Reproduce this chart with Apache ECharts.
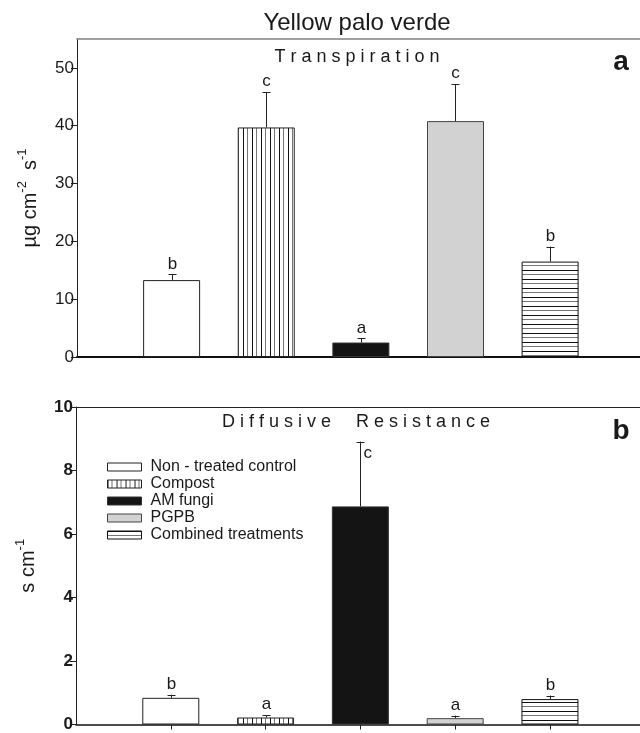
<!DOCTYPE html>
<html><head><meta charset="utf-8">
<script src="https://cdn.jsdelivr.net/npm/echarts@6/dist/echarts.min.js"></script>
<style>html,body{margin:0;padding:0;background:#fff}#c{width:640px;height:733px}</style>
</head><body><div id="c"></div>
<script>
// ---- data ----
const categories = ['Non - treated control', 'Compost', 'AM fungi', 'PGPB', 'Combined treatments'];
const xPositions = [1, 2, 3, 4, 5];
const transpiration = [13.3, 39.7, 2.5, 40.8, 16.5];
const transpirationSE = [1.0, 6.1, 0.7, 6.4, 2.6];
const transpirationLetters = ['b', 'c', 'a', 'c', 'b'];
const resistance = [0.84, 0.22, 6.87, 0.20, 0.80];
const resistanceSE = [0.10, 0.07, 2.04, 0.08, 0.11];
const resistanceLetters = ['b', 'a', 'c', 'a', 'b'];
const yTicksTranspiration = [0, 10, 20, 30, 40, 50];
const yTicksResistance = [0, 2, 4, 6, 8, 10];

const FONT = "'Liberation Sans', Arial, Helvetica, sans-serif";
const INK = '#1a1a1a';

function stripePattern(vertical) {
  const c = document.createElement('canvas');
  c.width = vertical ? 9 : 4;
  c.height = vertical ? 4 : 9;
  const g = c.getContext('2d');
  g.fillStyle = '#ffffff';
  g.fillRect(0, 0, c.width, c.height);
  if (vertical) {
    g.fillStyle = '#111'; g.fillRect(0, 0, 1, 4);
    g.fillStyle = '#777'; g.fillRect(4, 0, 1, 4);
  } else {
    g.fillStyle = '#111'; g.fillRect(0, 0, 4, 1);
    g.fillStyle = '#777'; g.fillRect(0, 4, 4, 1);
  }
  return { image: c, repeat: 'repeat' };
}

const barStyles = [
  { color: '#ffffff', borderColor: '#222', borderWidth: 1 },
  { color: stripePattern(true), borderColor: '#222', borderWidth: 1 },
  { color: '#141414', borderColor: '#333', borderWidth: 1 },
  { color: '#d2d2d2', borderColor: '#444', borderWidth: 1 },
  { color: stripePattern(false), borderColor: '#111', borderWidth: 1 }
];

function barSeries(values, gi) {
  return categories.map((name, i) => ({
    type: 'bar', name, xAxisIndex: gi * 2, yAxisIndex: gi,
    barWidth: 57, barGap: '-100%',
    data: [[xPositions[i], values[i]]],
    itemStyle: barStyles[i], silent: true
  }));
}

function errorSeries(values, se, letters, gi, sideThreshold) {
  return {
    type: 'custom', xAxisIndex: gi * 2, yAxisIndex: gi, silent: true, z: 10,
    data: values.map((v, i) => [xPositions[i], v, v + se[i], i]),
    renderItem: function (params, api) {
      const x = api.value(0), v = api.value(1), t = api.value(2), idx = api.value(3);
      const p0 = api.coord([x, v]), p1 = api.coord([x, t]);
      const cx = Math.round(p0[0]) + 0.5;
      const side = t > sideThreshold;
      return {
        type: 'group', children: [
          { type: 'line', shape: { x1: cx, y1: p0[1], x2: cx, y2: p1[1] }, style: { stroke: '#222', lineWidth: 1 } },
          { type: 'line', shape: { x1: cx - 4, y1: Math.round(p1[1]) + 0.5, x2: cx + 4, y2: Math.round(p1[1]) + 0.5 }, style: { stroke: '#222', lineWidth: 1 } },
          { type: 'text', style: {
              text: letters[idx], x: side ? cx + 3 : cx, y: side ? p1[1] + 3 : p1[1] - 2,
              align: side ? 'left' : 'center', verticalAlign: side ? 'top' : 'bottom',
              fontSize: 17, fontFamily: FONT, fill: INK } }
        ]
      };
    }
  };
}

const nameRich = {
  t: { fontSize: 20, fontFamily: FONT, color: INK, lineHeight: 24, verticalAlign: 'bottom' },
  s: { fontSize: 13, fontFamily: FONT, color: INK, lineHeight: 24, verticalAlign: 'top' }
};

const chart = echarts.init(document.getElementById('c'), null, { renderer: 'canvas' });
chart.setOption({
  animation: false,
  backgroundColor: '#ffffff',
  textStyle: { fontFamily: FONT },
  grid: [
    { left: 77, right: 0, top: 39, bottom: 376 },
    { left: 76, right: 0, top: 407, bottom: 7 }
  ],
  xAxis: [
    { type: 'value', gridIndex: 0, min: 0, max: 5.95, position: 'bottom',
      axisLine: { show: true, onZero: false, lineStyle: { color: '#111', width: 2 } },
      axisTick: { show: false }, axisLabel: { show: false }, splitLine: { show: false } },
    { type: 'value', gridIndex: 0, min: 0, max: 5.95, position: 'top',
      axisLine: { show: true, onZero: false, lineStyle: { color: '#808080', width: 1.5 } },
      axisTick: { show: false }, axisLabel: { show: false }, splitLine: { show: false } },
    { type: 'value', gridIndex: 1, min: 0, max: 5.95, position: 'bottom',
      axisLine: { show: true, onZero: false, lineStyle: { color: '#111', width: 1.5 } },
      axisTick: { show: true, customValues: xPositions, length: 5, lineStyle: { color: '#222' } },
      axisLabel: { show: false }, splitLine: { show: false } },
    { type: 'value', gridIndex: 1, min: 0, max: 5.95, position: 'top',
      axisLine: { show: true, onZero: false, lineStyle: { color: '#222', width: 1.2 } },
      axisTick: { show: false }, axisLabel: { show: false }, splitLine: { show: false } }
  ],
  yAxis: [
    { type: 'value', gridIndex: 0, min: 0, max: 55,
      axisLine: { show: true, onZero: false, lineStyle: { color: '#222', width: 1 } },
      axisTick: { show: true, length: 6, customValues: yTicksTranspiration, lineStyle: { color: '#222' } },
      axisLabel: { customValues: yTicksTranspiration, fontSize: 17, color: INK, margin: 3, fontFamily: FONT },
      splitLine: { show: false },
      name: '{t|µg cm}{s|-2}{t|  s}{s|-1}', nameLocation: 'middle', nameRotate: 90, nameGap: 37,
      nameTextStyle: { fontFamily: FONT, color: INK, rich: nameRich } },
    { type: 'value', gridIndex: 1, min: 0, max: 10, interval: 2,
      axisLine: { show: true, onZero: false, lineStyle: { color: '#222', width: 1 } },
      axisTick: { show: true, length: 6, customValues: yTicksResistance, lineStyle: { color: '#222' } },
      axisLabel: { customValues: yTicksResistance, fontSize: 17, fontWeight: 'bold', color: INK, margin: 3, fontFamily: FONT },
      splitLine: { show: false },
      name: '{t|s cm}{s|-1}', nameLocation: 'middle', nameRotate: 90, nameGap: 38,
      nameTextStyle: { fontFamily: FONT, color: INK, rich: nameRich } }
  ],
  legend: {
    orient: 'vertical', left: 102, top: 454, icon: 'rect',
    itemWidth: 34, itemHeight: 8, itemGap: 1, selectedMode: false,
    data: categories,
    itemStyle: { borderWidth: 1, borderColor: 'inherit' },
    textStyle: { fontSize: 16, color: INK, fontFamily: FONT, padding: [0, 0, 0, 4] }
  },
  graphic: [
    { type: 'text', x: 357, y: 23, style: { text: 'Yellow palo verde', align: 'center', verticalAlign: 'middle', fontSize: 24, fontFamily: FONT, fill: INK } },
    { type: 'text', x: 357, y: 57, style: { text: 'T r a n s p i r a t i o n', align: 'center', verticalAlign: 'middle', fontSize: 18, fontFamily: FONT, fill: INK } },
    { type: 'text', x: 356, y: 422, style: { text: 'D i f f u s i v e     R e s i s t a n c e', align: 'center', verticalAlign: 'middle', fontSize: 18, fontFamily: FONT, fill: INK } },
    { type: 'text', x: 621, y: 62, style: { text: 'a', align: 'center', verticalAlign: 'middle', fontSize: 28, fontWeight: 'bold', fontFamily: FONT, fill: INK } },
    { type: 'text', x: 621, y: 431, style: { text: 'b', align: 'center', verticalAlign: 'middle', fontSize: 28, fontWeight: 'bold', fontFamily: FONT, fill: INK } }
  ],
  series: [
    ...barSeries(transpiration, 0),
    ...barSeries(resistance, 1),
    errorSeries(transpiration, transpirationSE, transpirationLetters, 0, 1000),
    errorSeries(resistance, resistanceSE, resistanceLetters, 1, 8.5)
  ]
});
</script>
</body></html>
